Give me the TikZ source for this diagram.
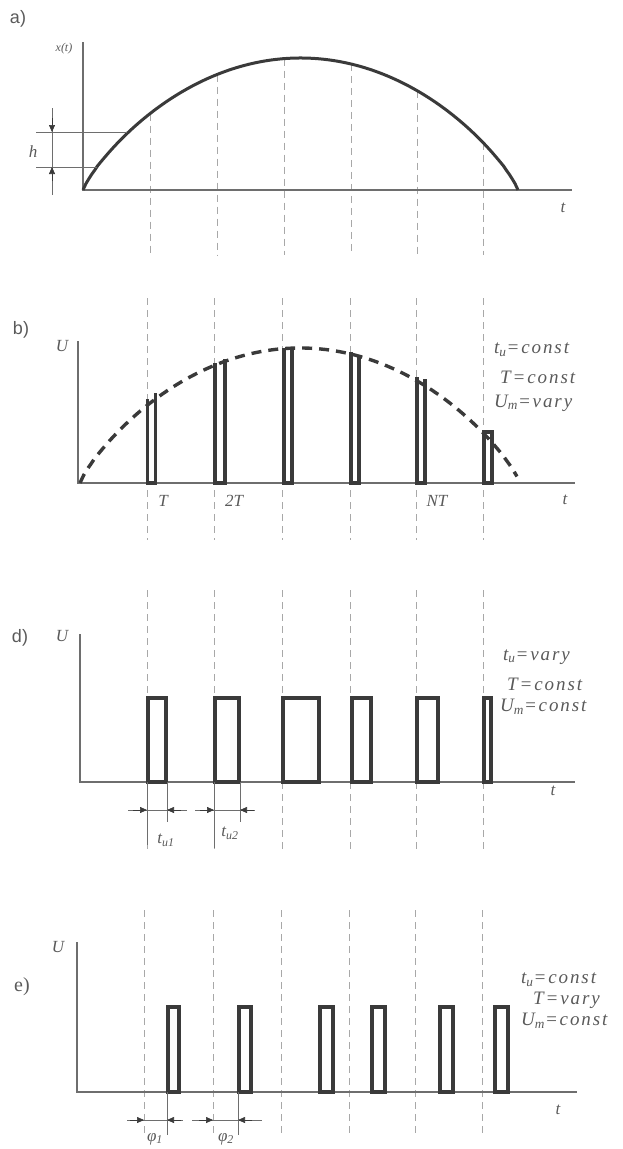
\documentclass[tikz,border=0pt]{standalone}
\usepackage{fontspec}
\setmainfont{Liberation Serif}
\newfontfamily\labfont{Liberation Sans}
\newfontfamily\sidefont[LetterSpace=10]{Liberation Serif}
\usetikzlibrary{arrows.meta}
\definecolor{ink}{HTML}{3A3A3A}
\definecolor{axcol}{HTML}{6E6E6E}
\definecolor{guidecol}{HTML}{A8A8A8}
\definecolor{txtcol}{HTML}{5A5A5A}
\begin{document}
\begin{tikzpicture}[x=1pt,y=-1pt,
  axisline/.style={draw=axcol,line width=1.3pt},
  guide/.style={draw=guidecol,line width=1pt,dash pattern=on 7pt off 5pt},
  pulse/.style={draw=ink,line width=3.2pt,line join=miter},
  curve/.style={draw=ink,line width=3pt},
  dcurve/.style={draw=ink,line width=3.4pt,dash pattern=on 10pt off 7pt},
  extline/.style={draw=axcol,line width=0.7pt},
  dimtip/.style={-{Triangle[length=7pt,width=6pt]},draw=ink,fill=ink,line width=0.7pt},
  panel/.style={text=txtcol,font=\labfont\fontsize{18}{21}\selectfont,inner sep=0pt},
  lbl/.style={text=txtcol,font=\itshape\fontsize{17}{20}\selectfont,inner sep=0pt},
  side/.style={text=txtcol,font=\sidefont\itshape\fontsize{19}{22}\selectfont,inner sep=0pt,anchor=west},
]
\useasboundingbox (0,0) rectangle (623,1149);

% ---------------- panel a ----------------
\node[panel] (la) at (18,19) {a)};
\node[lbl,font=\itshape\fontsize{12}{14}\selectfont] (xt) at (64,49) {x(t)};
\node[lbl] (ha) at (33,152) {h};
\node[lbl] (ta) at (563,208) {t};
\foreach \gx in {150,217,284,351,417,483}
  \draw[guide] (\gx,{190-132*exp(0.84*ln(max(1-((\gx-300.5)/217.5)^2,0.0001)))}) -- (\gx,255);
\draw[axisline] (83,42) -- (83,190) -- (572,190);
\draw[curve] plot[domain=83:518,samples=150] (\x,{190-132*exp(0.84*ln(max(1-((\x-300.5)/217.5)^2,0.0001)))});
\draw[extline] (36,132) -- (127,132);
\draw[extline] (36,167) -- (97,167);
\draw[extline] (52,108) -- (52,195);
\draw[dimtip] (52,118) -- (52,132);
\draw[dimtip] (52,181) -- (52,167);

% ---------------- panel b ----------------
\node[panel] (lb) at (21,330) {b)};
\node[lbl] (Ub) at (62,346) {U};
\foreach \gx in {147,214,282,350,416,483}
  \draw[guide] (\gx,298) -- (\gx,540);
\draw[axisline] (78,341) -- (78,483) -- (575,483);
\draw[dcurve] plot[domain=80:517,samples=120] (\x,{483-135*exp(0.84*ln(max(1-((\x-300)/220)^2,0.0001)))});
\draw[pulse] (147.5,399) -- (147.5,483) -- (155.5,483) -- (155.5,393);
\draw[pulse] (215,363) -- (215,483) -- (225,483) -- (225,359);
\draw[pulse] (284,348) -- (284,483) -- (292,483) -- (292,348);
\draw[pulse] (351,352) -- (351,483) -- (359,483) -- (359,355);
\draw[pulse] (417,377) -- (417,483) -- (425,483) -- (425,379);
\draw[pulse] (484,432) rectangle (492,483);
\node[lbl] (Tb) at (163,501) {T};
\node[lbl] (T2b) at (234,501) {2T};
\node[lbl] (NTb) at (437,501) {NT};
\node[lbl] (tb) at (565,500) {t};
\node[side] (b1) at (494,350) {t\textsubscript{u}=const};
\node[side] (b2) at (500,377) {T=const};
\node[side] (b3) at (494,403) {U\textsubscript{m}=vary};

% ---------------- panel d ----------------
\node[panel] (ld) at (20,638) {d)};
\node[lbl] (Ud) at (62,636) {U};
\foreach \gx in {147,214,282,350,416,483}
  \draw[guide] (\gx,590) -- (\gx,850);
\draw[axisline] (80,634) -- (80,782) -- (575,782);
\draw[pulse] (148,698) rectangle (166,782);
\draw[pulse] (215,698) rectangle (239,782);
\draw[pulse] (283,698) rectangle (319,782);
\draw[pulse] (352,698) rectangle (371,782);
\draw[pulse] (417,698) rectangle (438,782);
\draw[pulse] (484,698) rectangle (491,782);
\draw[extline] (147,782) -- (147,845);
\draw[extline] (167,782) -- (167,822);
\draw[extline] (214,782) -- (214,848);
\draw[extline] (240,782) -- (240,822);
\draw[extline] (128,810) -- (187,810);
\draw[extline] (195,810) -- (255,810);
\draw[dimtip] (133,810) -- (147,810);
\draw[dimtip] (181,810) -- (167,810);
\draw[dimtip] (200,810) -- (214,810);
\draw[dimtip] (254,810) -- (240,810);
\node[lbl] (tu1) at (166,840) {t\textsubscript{u1}};
\node[lbl] (tu2) at (230,833) {t\textsubscript{u2}};
\node[lbl] (td) at (553,791) {t};
\node[side] (d1) at (503,657) {t\textsubscript{u}=vary};
\node[side] (d2) at (507,684) {T=const};
\node[side] (d3) at (500,707) {U\textsubscript{m}=const};

% ---------------- panel e ----------------
\node[lbl] (Ue) at (58,947) {U};
\node[text=txtcol,font=\fontsize{20}{23}\selectfont,inner sep=0pt] (le) at (22,987) {e)};
\foreach \gx in {144,213,281,349,415,482}
  \draw[guide] (\gx,910) -- (\gx,1135);
\draw[axisline] (77,942) -- (77,1092) -- (577,1092);
\draw[pulse] (168,1007) rectangle (179,1092);
\draw[pulse] (239,1007) rectangle (251,1092);
\draw[pulse] (320,1007) rectangle (333,1092);
\draw[pulse] (372,1007) rectangle (385,1092);
\draw[pulse] (440,1007) rectangle (453,1092);
\draw[pulse] (495,1007) rectangle (508,1092);
\draw[extline] (167,1092) -- (167,1135);
\draw[extline] (238,1092) -- (238,1135);
\draw[extline] (127,1120) -- (183,1120);
\draw[extline] (192,1120) -- (262,1120);
\draw[dimtip] (130,1120) -- (144,1120);
\draw[dimtip] (181,1120) -- (167,1120);
\draw[dimtip] (199,1120) -- (213,1120);
\draw[dimtip] (252,1120) -- (238,1120);
\node[lbl] (ph1) at (155,1139) {φ\textsubscript{1}};
\node[lbl] (ph2) at (226,1139) {φ\textsubscript{2}};
\node[lbl] (te) at (558,1110) {t};
\node[side] (e1) at (521,980) {t\textsubscript{u}=const};
\node[side] (e2) at (533,1000) {T=vary};
\node[side] (e3) at (521,1021) {U\textsubscript{m}=const};
\end{tikzpicture}
\end{document}
